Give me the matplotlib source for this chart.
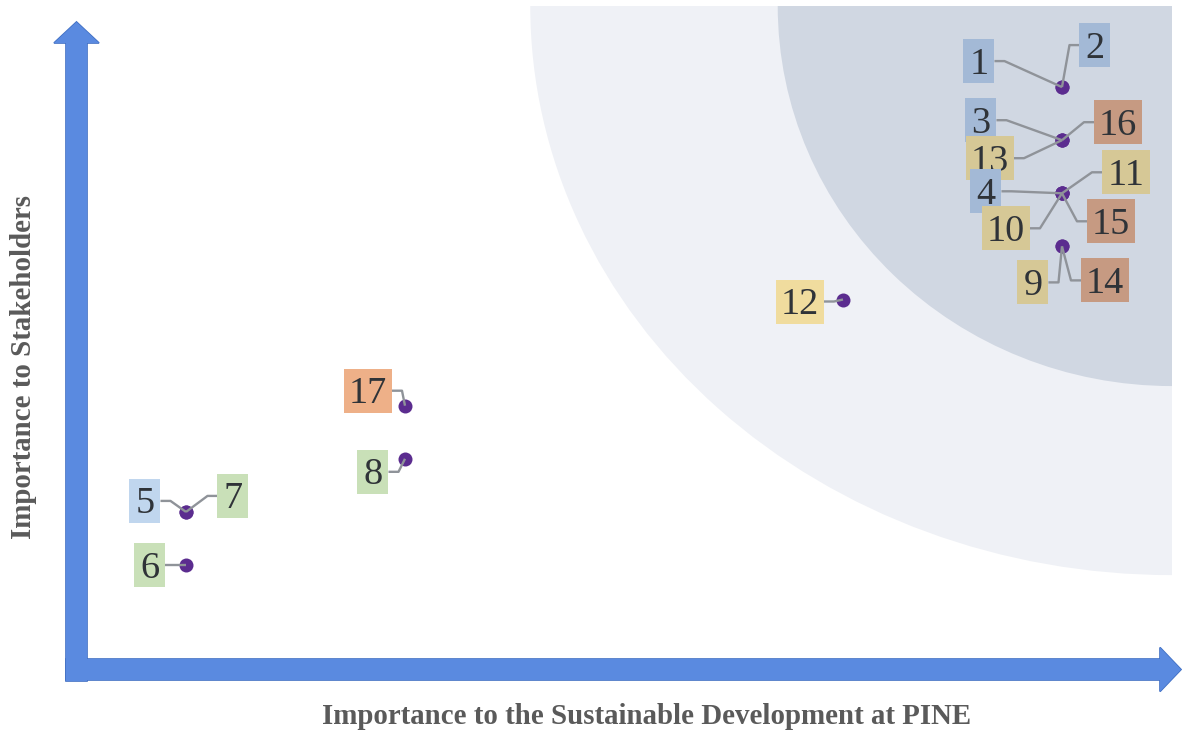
import numpy as np
import matplotlib
matplotlib.use("Agg")
import matplotlib.pyplot as plt
import matplotlib.transforms as mtransforms
from matplotlib.patches import Ellipse, Rectangle, FancyArrow

# Materiality topics: id, importance to PINE (x), importance to stakeholders (y)
topic_ids = [1, 2, 3, 13, 16, 4, 11, 10, 15, 9, 14, 12, 17, 8, 5, 7, 6]
x_pine    = [5, 5, 5, 5, 5, 5, 5, 5, 5, 5, 5, 4, 2, 2, 1, 1, 1]
y_stake   = [10, 10, 9, 9, 9, 8, 8, 8, 8, 7, 7, 6, 4, 3, 2, 2, 1]
groups    = ['A', 'A', 'A', 'D', 'E', 'A', 'D', 'D', 'E', 'D', 'E', 'F', 'G', 'C', 'B', 'C', 'C']

group_colors = {
    'A': '#a3b9d6',  # blue
    'B': '#c0d6ee',  # light blue
    'C': '#c9e0b8',  # green
    'D': '#d6c896',  # tan
    'E': '#c69a82',  # brown
    'F': '#f0dc9e',  # yellow
    'G': '#eeb088',  # orange
}

# label offsets from the dot, in pixels (y up)
label_dx = [-83, 33, -81, -72, 56, -76, 64, -56, 49, -29, 43, -43, -37, -32, -41, 47, -36]
label_dy = [26, 42, 20, -18, 18, 2, 21, -35, -28, -36, -34, -2, 15, -13, 11, 16, 0]

W, H, DPI = 1182, 735, 100
fig = plt.figure(figsize=(W / DPI, H / DPI), dpi=DPI)
ax = fig.add_axes([0, 0, 1, 1])
ax.set_xlim(0.1507, 5.548)
ax.set_ylim(-2.201, 11.64)
ax.axis('off')

# pixel coords (origin top-left) -> display
px = mtransforms.Affine2D().scale(1, -1).translate(0, H)

# background zones (quarter ellipses around the top-right corner)
cx, cy = 5.502, 11.53
clip = Rectangle((-1, -5), cx + 1, cy + 5, transform=ax.transData)
for w, h, c in [(5.86, 21.44, '#eff1f6'), (3.60, 14.32, '#d0d7e2')]:
    e = Ellipse((cx, cy), w, h, facecolor=c, edgecolor='none', zorder=1)
    ax.add_patch(e)
    e.set_clip_path(clip)

# axis arrows (outline pass, then fill pass so the corner merges)
for ec, lw, z in [('#4170c4', 1.2, 2), ('#5a8ae0', 0, 2.1)]:
    kw = dict(facecolor='#5a8ae0', edgecolor=ec, lw=lw,
              length_includes_head=True, transform=px, zorder=z)
    ax.add_patch(FancyArrow(76.5, 681, 0, -659, width=21, head_width=45,
                            head_length=21, **kw))
    ax.add_patch(FancyArrow(66, 669.5, 1115, 0, width=21, head_width=44,
                            head_length=21, **kw))

# dots
ax.scatter(x_pine, y_stake, s=(14 * 0.72) ** 2, color='#5b2c8f',
           zorder=3, linewidths=0)

# labels with leader lines
for k, tid in enumerate(topic_ids):
    x, y = x_pine[k], y_stake[k]
    dx, dy = label_dx[k], label_dy[k]
    trans = mtransforms.IdentityTransform() + mtransforms.ScaledTranslation(x, y, ax.transData)
    txt = str(tid)
    hw = 7 + 8.5 * len(txt)
    if dx < 0:
        edge, elbow = dx + hw, dx + hw + 10
    else:
        edge, elbow = dx - hw, dx - hw - 10
    ax.plot([edge, elbow, 0], [dy, dy, 0], color='#8f9399', lw=1.7,
            transform=trans, zorder=4, solid_capstyle='butt')
    z = 5 + k * 0.1
    ax.add_patch(Rectangle((dx - hw, dy - 22), 2 * hw, 44, transform=trans,
                           facecolor=group_colors[groups[k]], edgecolor='none', zorder=z))
    ax.text(dx, dy - 12.5, txt, transform=trans, ha='center', va='baseline',
            fontsize=27.5, family='Liberation Serif', color='#2f3338', zorder=z + 0.05)

# axis titles
ax.text(647, 716, 'Importance to the Sustainable Development at PINE', transform=px,
        ha='center', va='center', fontsize=20.8, fontweight='bold',
        family='Liberation Serif', color='#5a5a5a')
ax.text(24, 367, 'Importance to Stakeholders', transform=px, rotation=90,
        ha='center', va='center', fontsize=20.8, fontweight='bold',
        family='Liberation Serif', color='#5a5a5a')

fig.savefig('out.png', dpi=DPI)
